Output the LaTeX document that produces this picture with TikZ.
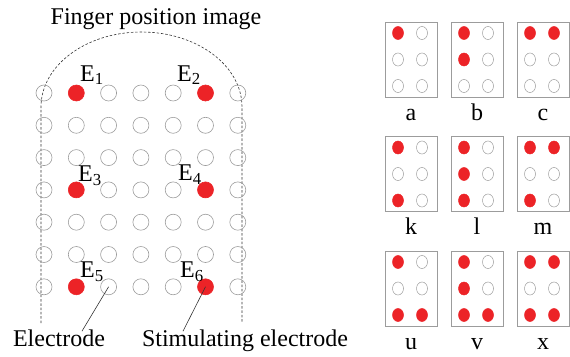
\documentclass[tikz,border=0pt]{standalone}
\usepackage{xcolor,tikz}
\usepackage{fontspec}
\setmainfont{Liberation Serif}
\usetikzlibrary{positioning,calc,shapes.geometric}
\definecolor{fpRedFill}{HTML}{EC2327}
\definecolor{fpGreyLine}{HTML}{9C9C9C}
\definecolor{fpDarkLine}{HTML}{333333}

\tikzset{
  pin/.style={circle, draw=fpGreyLine, line width=0.6pt,
              minimum size=16pt, inner sep=0pt},
  pinOn/.style={pin, draw=fpRedFill, fill=fpRedFill},
  cellbox/.style={draw=fpGreyLine, line width=0.8pt,
                  minimum width=52pt, minimum height=75pt, inner sep=0pt},
  bdot/.style={ellipse, draw=fpGreyLine, line width=0.5pt,
               minimum width=11pt, minimum height=13pt, inner sep=0pt},
  bdotOn/.style={bdot, draw=fpRedFill, fill=fpRedFill},
  txt/.style={font=\fontsize{24}{28}\selectfont, inner sep=0pt},
}

\begin{document}
\begin{tikzpicture}[x=1pt, y=-1pt]
\useasboundingbox (0,0) rectangle (570,356);

%% finger outline and title
\node[txt, anchor=base] (title) at (156,24) {Finger position image};
\draw[fpDarkLine, line width=0.6pt, dash pattern=on 2.5pt off 1.8pt]
  (41,323) -- (41,107)
  arc[start angle=180, end angle=360, x radius=100.5, y radius=75]
  -- (242,323);

%% 7x7 electrode array
\foreach \c in {1,...,7} {
  \foreach \r in {1,...,7} {
    \pgfmathtruncatemacro\on{((\c==2)||(\c==6))&&((\r==1)||(\r==4)||(\r==7))}
    \ifnum\on=1
      \node[pinOn] (e\c-\r) at ({44+32.3*(\c-1)}, {93+32.3*(\r-1)}) {};
    \else
      \node[pin] (e\c-\r) at ({44+32.3*(\c-1)}, {93+32.3*(\r-1)}) {};
    \fi
  }
}

%% stimulating electrode labels
\node[txt, anchor=base west] (lblE1) at ([shift={(3.7,-12)}]e2-1.center) {E\textsubscript{1}};
\node[txt, anchor=base west] (lblE2) at ([shift={(-28.5,-12)}]e6-1.center) {E\textsubscript{2}};
\node[txt, anchor=base west] (lblE3) at ([shift={(1.7,-8)}]e2-4.center) {E\textsubscript{3}};
\node[txt, anchor=base west] (lblE4) at ([shift={(-27.5,-9)}]e6-4.center) {E\textsubscript{4}};
\node[txt, anchor=base west] (lblE5) at ([shift={(3.7,-9)}]e2-7.center) {E\textsubscript{5}};
\node[txt, anchor=base west] (lblE6) at ([shift={(-25.5,-9)}]e6-7.center) {E\textsubscript{6}};

%% callouts
\node[txt, anchor=base] (lblElec) at (59,346) {Electrode};
\node[txt, anchor=base] (lblStim) at (245,346) {Stimulating electrode};
\draw[fpDarkLine, line width=0.6pt] ([xshift=23pt, yshift=-2pt]lblElec.north) -- (e3-7.center);
\draw[fpDarkLine, line width=0.6pt] ([xshift=-62pt, yshift=-2pt]lblStim.north) -- (e6-7.center);

%% braille cells (dot pattern as bits: dots 1-3 left column, 4-6 right)
\foreach [count=\i from 0] \ltr/\pat in {a/1, b/3, c/9, k/5, l/7, m/13, u/37, v/39, x/45} {
  \pgfmathsetmacro\bx{385 + 66*mod(\i,3)}
  \pgfmathsetmacro\by{22 + 114.5*floor(\i/3)}
  \node[cellbox] (cell\ltr) at (\bx+26, \by+37.5) {};
  \node[txt, anchor=base] (lbl\ltr) at (\bx+26, \by+98) {\ltr};
  \foreach \k in {1,...,6} {
    \pgfmathtruncatemacro\bit{mod(floor(\pat/2^(\k-1)),2)}
    \pgfmathsetmacro\dx{\k<4 ? 13 : 37}
    \pgfmathsetmacro\dy{11 + 26.5*mod(\k-1,3)}
    \ifnum\bit=1
      \node[bdotOn] (dot\ltr\k) at (\bx+\dx, \by+\dy) {};
    \else
      \node[bdot] (dot\ltr\k) at (\bx+\dx, \by+\dy) {};
    \fi
  }
}

\end{tikzpicture}
\end{document}
